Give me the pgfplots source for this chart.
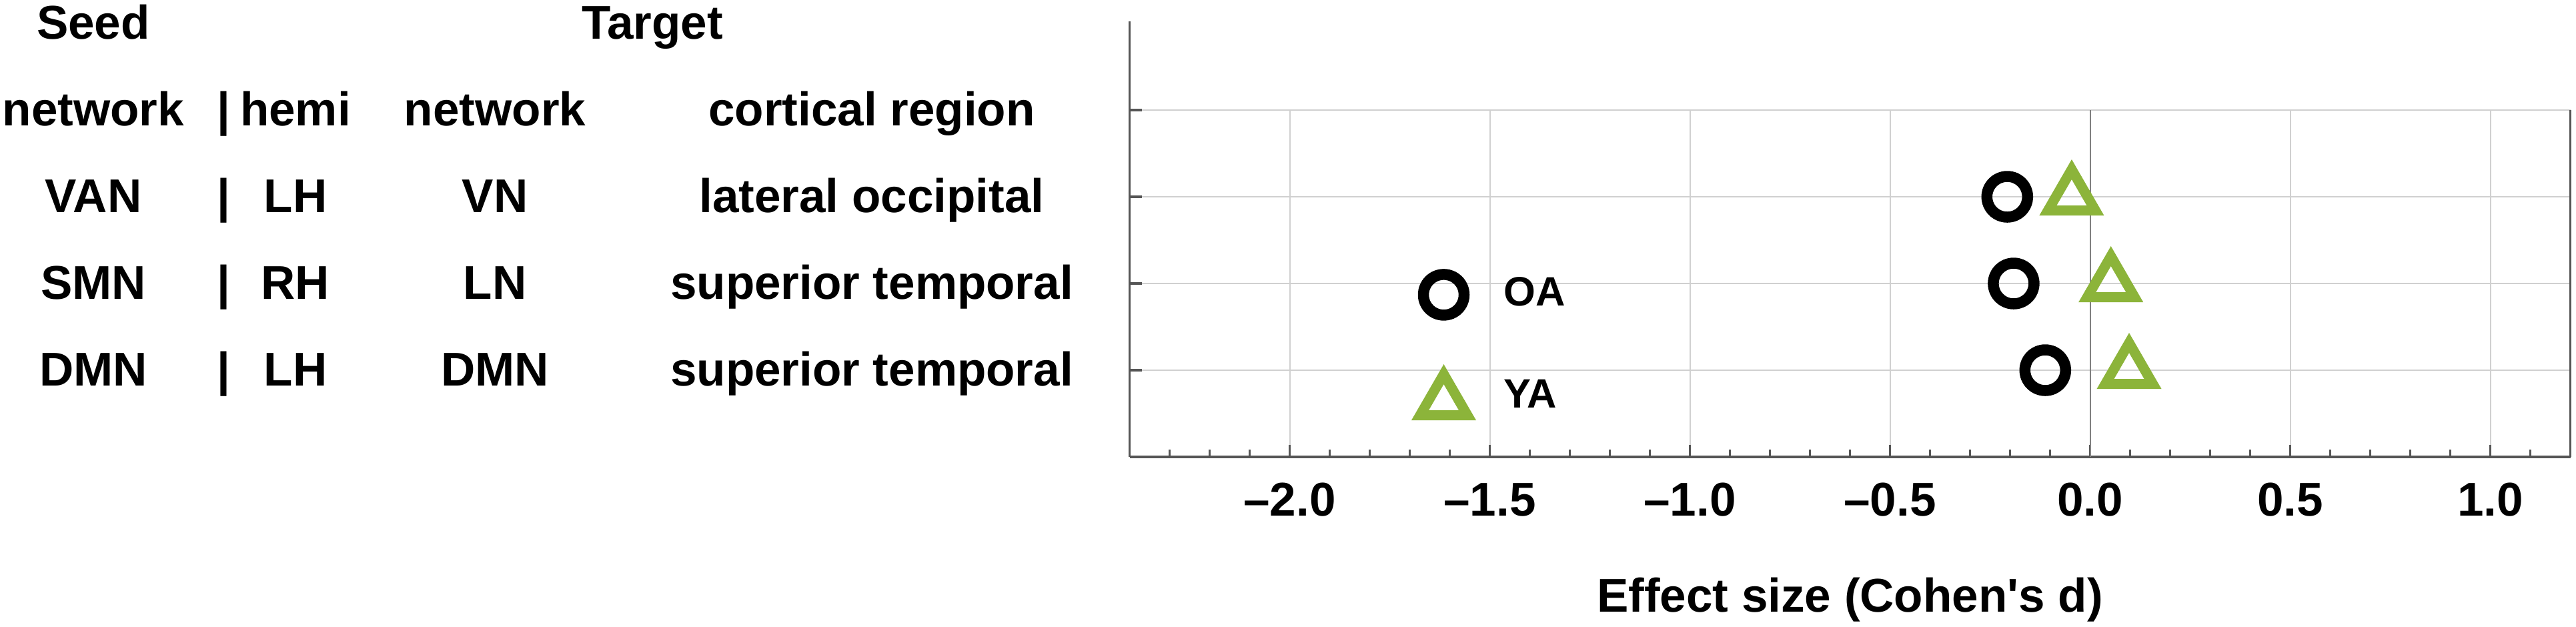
\documentclass[border=0pt]{standalone}
\usepackage{fontspec}
\setmainfont{Liberation Sans}
\usepackage{pgfplots}
\pgfplotsset{compat=1.18}

\definecolor{yagreen}{HTML}{8CB43A}
\definecolor{axgray}{HTML}{555555}
\definecolor{gridgray}{HTML}{D0D0D0}
\newcommand{\tabfont}{\bfseries\fontsize{14.2}{17}\selectfont}
\newcommand{\legfont}{\bfseries\fontsize{12.3}{14}\selectfont}

\begin{document}
\begin{tikzpicture}
\useasboundingbox (-338.7pt,-50.8pt) rectangle (433.7pt,137pt);
\begin{axis}[
  at={(0pt,0pt)}, anchor=south west,
  scale only axis, width=432pt, height=104pt,
  xmin=-2.4, xmax=1.2, ymin=0, ymax=4,
  clip=false,
  axis lines*=left,
  axis line style={axgray, line width=0.7pt},
  xtick={-2,-1.5,-1,-0.5,0,0.5,1},
  xticklabels={\textendash2.0,\textendash1.5,\textendash1.0,\textendash0.5,0.0,0.5,1.0},
  minor xtick={-2.3,-2.2,-2.1,-1.9,-1.8,-1.7,-1.6,-1.4,-1.3,-1.2,-1.1,-0.9,-0.8,-0.7,-0.6,
               -0.4,-0.3,-0.2,-0.1,0.1,0.2,0.3,0.4,0.6,0.7,0.8,0.9,1.1},
  ytick={1,2,3,4}, yticklabels={},
  tick align=inside,
  major tick length=3.6pt, minor tick length=2.2pt,
  tick style={axgray, line width=0.65pt},
  xmajorgrids, ymajorgrids,
  major grid style={gridgray, line width=0.4pt},
  xticklabel style={font=\tabfont, anchor=base, inner sep=0pt, yshift=-17.6pt},
  xlabel={Effect size (Cohen\textquotesingle s d)},
  xlabel style={font=\tabfont, at={(axis description cs:0.5,0)}, anchor=base, inner sep=0pt, yshift=-46.4pt},
]
  % zero line, right edge and the left line running up to the header row
  \draw[black!50, line width=0.4pt] (axis cs:0,0) -- (axis cs:0,4);
  \draw[axgray, line width=0.7pt] (axis cs:1.2,0) -- (axis cs:1.2,4);
  \draw[axgray, line width=0.7pt] (axis cs:-2.4,3.9) -- (axis cs:-2.4,5.02);

  % OA
  \addplot[only marks, mark=o, mark size=6.1pt, mark options={black, line width=3.3pt}]
    coordinates {(-0.207,3) (-0.191,2) (-0.112,1)};
  % YA
  \addplot[only marks, mark=triangle, mark size=8.2pt, mark options={yagreen, line width=3pt}]
    coordinates {(-0.046,3) (0.052,2) (0.0975,1)};

  % in-plot key
  \addplot[only marks, mark=o, mark size=6.1pt, mark options={black, line width=3.3pt}]
    coordinates {(-1.615,1.87)};
  \addplot[only marks, mark=triangle, mark size=8.2pt, mark options={yagreen, line width=3pt}]
    coordinates {(-1.615,0.638)};
  \node[font=\legfont, anchor=base west, inner sep=0pt] at (axis cs:-1.467,1.746) {OA};
  \node[font=\legfont, anchor=base west, inner sep=0pt] at (axis cs:-1.467,0.562) {YA};
\end{axis}

% table on the left
\begin{scope}[every node/.style={font=\tabfont, inner sep=0pt, anchor=base}]
  \node at (-310.7pt,125.3pt) {Seed};
  \node at (-143.1pt,125.3pt) {Target};

  \node at (-310.7pt,99.3pt) {network};
  \node at (-271.7pt,99.3pt) {|};
  \node at (-250.1pt,99.3pt) {hemi};
  \node at (-190.3pt,99.3pt) {network};
  \node at (-77.3pt,99.3pt) {cortical region};

  \node at (-310.7pt,73.3pt) {VAN};
  \node at (-271.7pt,73.3pt) {|};
  \node at (-250.1pt,73.3pt) {LH};
  \node at (-190.3pt,73.3pt) {VN};
  \node at (-77.3pt,73.3pt) {lateral occipital};

  \node at (-310.7pt,47.3pt) {SMN};
  \node at (-271.7pt,47.3pt) {|};
  \node at (-250.1pt,47.3pt) {RH};
  \node at (-190.3pt,47.3pt) {LN};
  \node at (-77.3pt,47.3pt) {superior temporal};

  \node at (-310.7pt,21.3pt) {DMN};
  \node at (-271.7pt,21.3pt) {|};
  \node at (-250.1pt,21.3pt) {LH};
  \node at (-190.3pt,21.3pt) {DMN};
  \node at (-77.3pt,21.3pt) {superior temporal};
\end{scope}
\end{tikzpicture}
\end{document}
